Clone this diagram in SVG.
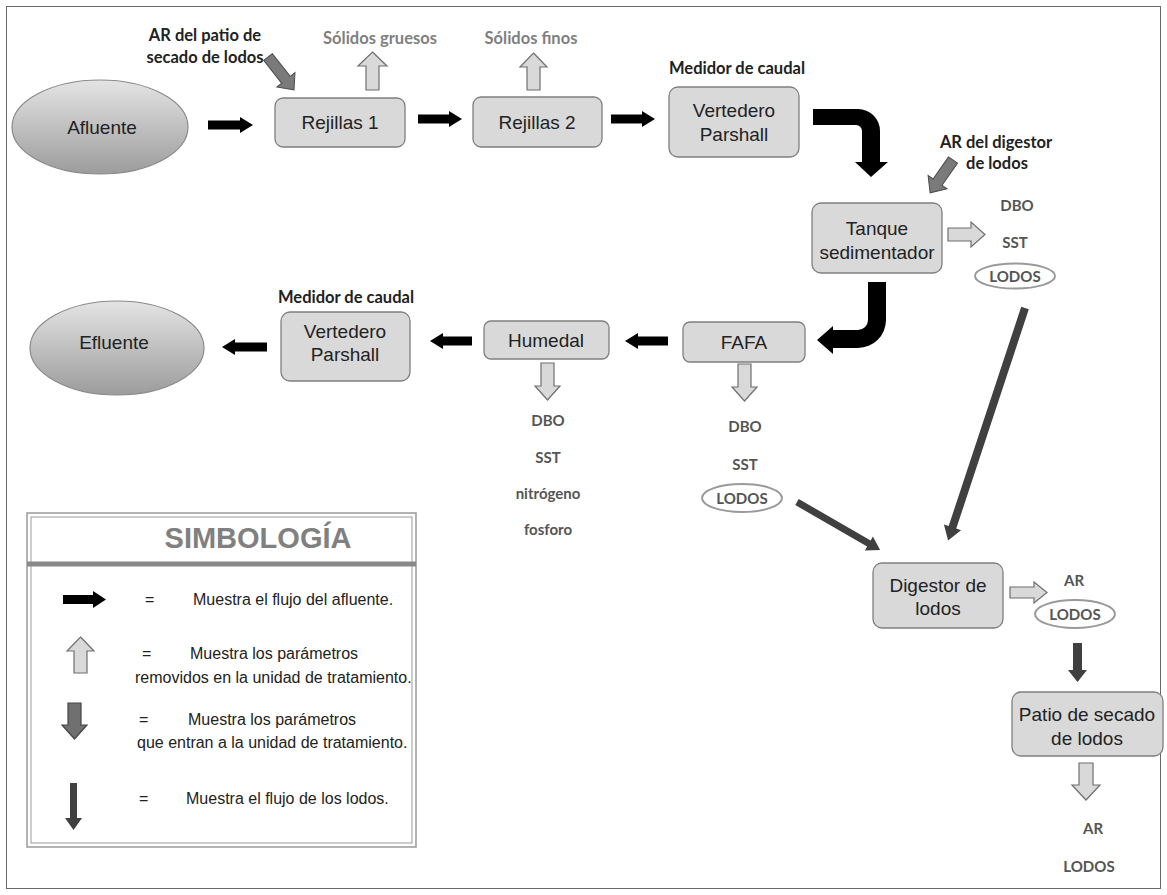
<svg xmlns="http://www.w3.org/2000/svg" width="1167" height="895" viewBox="0 0 1167 895">
<style>
.node{fill:#d9d9d9;stroke:#7f7f7f;stroke-width:1.3}
.lbl{font-family:"Liberation Sans",Arial,sans-serif;font-size:19px;fill:#222;text-anchor:middle}
.ann{font-family:Lato,"Open Sans",sans-serif;font-weight:700;font-size:16.5px;fill:#222;text-anchor:middle}
.gry{font-family:Lato,"Open Sans",sans-serif;font-weight:700;font-size:16.5px;fill:#7f7f7f;text-anchor:middle}
.par{font-family:Lato,"Open Sans",sans-serif;font-weight:700;font-size:15px;fill:#555;text-anchor:middle}
.leg{font-family:"Liberation Sans",Arial,sans-serif;font-size:16px;fill:#222}
.blk{fill:#000}
.hol{fill:#d9d9d9;stroke:#6f6f6f;stroke-width:1.2}
.inp{fill:#7a7a7a;stroke:#4a4a4a;stroke-width:1}
.dark{fill:#404040}
.lod{fill:#fff;stroke:#9a9a9a;stroke-width:2}
</style>
<defs>
<linearGradient id="g" x1="0" y1="0" x2="0" y2="1">
<stop offset="0" stop-color="#e4e4e4"/>
<stop offset="1" stop-color="#9c9c9c"/>
</linearGradient>
</defs>
<rect x="0" y="0" width="1167" height="895" fill="#fff"/>
<rect x="6.5" y="6.5" width="1154" height="882" fill="none" stroke="#6a6a6a" stroke-width="1"/>

<g id="afluente"><ellipse cx="100" cy="127" rx="88" ry="47" fill="url(#g)" stroke="#8a8a8a" stroke-width="1.2"/><text class="lbl" x="102" y="134">Afluente</text></g>
<g id="rejillas1"><rect class="node" x="275" y="98" width="130" height="49" rx="8"/><text class="lbl" x="340" y="129">Rejillas 1</text></g>
<g id="rejillas2"><rect class="node" x="473" y="97" width="129" height="50" rx="8"/><text class="lbl" x="537" y="129">Rejillas 2</text></g>
<g id="vertedero1"><text class="ann" x="737" y="74">Medidor de caudal</text><rect class="node" x="669" y="87" width="130" height="70" rx="9"/><text class="lbl" x="734" y="117">Vertedero</text><text class="lbl" x="734" y="141">Parshall</text></g>
<g id="tanque"><rect class="node" x="812" y="203" width="130" height="70" rx="9"/><text class="lbl" x="877" y="235">Tanque</text><text class="lbl" x="877" y="259">sedimentador</text></g>
<g id="fafa"><rect class="node" x="683" y="322" width="122" height="40" rx="7"/><text class="lbl" x="744" y="349">FAFA</text></g>
<g id="humedal"><rect class="node" x="484" y="321" width="125" height="38" rx="7"/><text class="lbl" x="546" y="347">Humedal</text></g>
<g id="vertedero2"><text class="ann" x="346" y="303">Medidor de caudal</text><rect class="node" x="281" y="312" width="129" height="69" rx="9"/><text class="lbl" x="345" y="338">Vertedero</text><text class="lbl" x="345" y="361">Parshall</text></g>
<g id="efluente"><ellipse cx="117" cy="348" rx="87" ry="47" fill="url(#g)" stroke="#8a8a8a" stroke-width="1.2"/><text class="lbl" x="114" y="349">Efluente</text></g>
<g id="digestor"><rect class="node" x="873" y="563" width="130" height="65" rx="9"/><text class="lbl" x="938" y="592">Digestor de</text><text class="lbl" x="938" y="615">lodos</text></g>
<g id="patio"><rect class="node" x="1012" y="692" width="151" height="64" rx="9"/><text class="lbl" x="1087" y="721">Patio de secado</text><text class="lbl" x="1087" y="745">de lodos</text></g>

<g id="labels">
<text class="ann" x="205" y="41">AR del patio de</text>
<text class="ann" x="205" y="63">secado de lodos</text>
<text class="gry" x="380" y="44">Sólidos gruesos</text>
<text class="gry" x="531" y="44">Sólidos finos</text>
<text class="ann" x="996" y="148">AR del digestor</text>
<text class="ann" x="997" y="169">de lodos</text>
<text class="par" x="1017" y="211">DBO</text>
<text class="par" x="1015" y="248">SST</text>
<ellipse class="lod" cx="1015" cy="276" rx="40" ry="12.5"/>
<text class="par" x="1015" y="282">LODOS</text>
<text class="par" x="548" y="426">DBO</text>
<text class="par" x="548" y="463">SST</text>
<text class="par" x="548" y="499">nitrógeno</text>
<text class="par" x="548" y="535">fosforo</text>
<text class="par" x="745" y="432">DBO</text>
<text class="par" x="745" y="470">SST</text>
<ellipse class="lod" cx="742" cy="498" rx="40" ry="14"/>
<text class="par" x="742" y="504">LODOS</text>
<text class="par" x="1074" y="586">AR</text>
<ellipse class="lod" cx="1075" cy="614" rx="40" ry="14"/>
<text class="par" x="1075" y="620">LODOS</text>
<text class="par" x="1093" y="834">AR</text>
<text class="par" x="1089" y="872">LODOS</text>
</g>

<g id="connectors">
<path class="blk" d="M208,120.5 H240 V117 L253,125 L240,133 V129.5 H208 Z"/>
<path class="blk" d="M418,114.5 H449 V111 L462,119 L449,127 V123.5 H418 Z"/>
<path class="blk" d="M611,114.5 H642 V111 L655,119 L642,127 V123.5 H611 Z"/>
<path class="blk" d="M813,109 H858 A22,22 0 0 1 880,131 V162 H888 L871,177 L855,162 H862 V131 A6,6 0 0 0 856,125 H813 Z"/>
<path class="blk" d="M868,282 H886 V320 A28,28 0 0 1 858,348 H833 V354 L817,340 L833,326 V330 H858 A10,10 0 0 0 868,320 Z"/>
<path class="blk" d="M668,336.5 H638 V333 L625,341 L638,349 V345.5 H668 Z"/>
<path class="blk" d="M472,336.5 H443 V333 L430,341 L443,349 V345.5 H472 Z"/>
<path class="blk" d="M267,342.5 H235 V339 L222,347 L235,355 V351.5 H267 Z"/>
<path class="hol" d="M372.5,52 L387,66 H379 V90 H366 V66 H358 Z"/>
<path class="hol" d="M533.5,53 L547,67 H540 V90 H527 V67 H520 Z"/>
<path class="hol" d="M948,228 H971 V222 L985,234.5 L971,247 V241 H948 Z"/>
<path class="hol" d="M1010,587 H1034 V582 L1047,592.5 L1034,603 V598 H1010 Z"/>
<path class="hol" d="M541,363 H554 V386 H560 L547.5,400 L535,386 H541 Z"/>
<path class="hol" d="M738,364 H751 V387 H757 L744.5,401 L732,387 H738 Z"/>
<path class="hol" d="M1079,763 H1093 V785 H1100 L1086,800 L1072,785 H1079 Z"/>
<path class="inp" transform="translate(268,57) rotate(-38.2)" d="M-5.5,0 H5.5 V29 H11.5 L0,42 L-11.5,29 H-5.5 Z"/>
<path class="inp" transform="translate(953,160) rotate(34.9)" d="M-5.5,0 H5.5 V27 H11.5 L0,40 L-11.5,27 H-5.5 Z"/>
<path class="dark" transform="translate(797,502) rotate(-60)" d="M-3.5,0 H3.5 V83 H8 L0,96 L-8,83 H-3.5 Z"/>
<path class="dark" transform="translate(1025,308) rotate(18.3)" d="M-4,0 H4 V231 H9 L0,245 L-9,231 H-4 Z"/>
<path class="dark" d="M1073,643 H1082 V670 H1087 L1077.5,682 L1068,670 H1073 Z"/>
</g>

<g id="legend">
<rect x="27" y="513" width="389" height="334" fill="#fff" stroke="#9a9a9a" stroke-width="1.5"/>
<rect x="31" y="517" width="381" height="326" fill="none" stroke="#9a9a9a" stroke-width="1"/>
<line x1="27" y1="564" x2="416" y2="564" stroke="#888" stroke-width="5"/>
<text x="258" y="548" font-family="Liberation Sans,Arial,sans-serif" font-weight="700" font-size="29" fill="#808080" text-anchor="middle">SIMBOLOGÍA</text>
<path class="blk" d="M63,595 H93 V591 L106,599.5 L93,608 V604 H63 Z"/>
<text class="leg" x="145" y="605">=</text>
<text class="leg" x="193" y="605">Muestra el flujo del afluente.</text>
<path class="hol" d="M80.5,637 L94,651 H87 V673 H74 V651 H67 Z"/>
<text class="leg" x="142" y="659">=</text>
<text class="leg" x="190" y="659">Muestra los parámetros</text>
<text class="leg" x="135" y="683">removidos en la unidad de tratamiento.</text>
<path d="M68,703 H81 V725 H87 L74.5,739 L62,725 H68 Z" fill="#707070" stroke="#444" stroke-width="1.2"/>
<text class="leg" x="139" y="725">=</text>
<text class="leg" x="188" y="725">Muestra los parámetros</text>
<text class="leg" x="137" y="748">que entran a la unidad de tratamiento.</text>
<path class="dark" d="M70,783 H77 V818 H82 L73.5,830 L65,818 H70 Z"/>
<text class="leg" x="139" y="804">=</text>
<text class="leg" x="186" y="804">Muestra el flujo de los lodos.</text>
</g>
</svg>
